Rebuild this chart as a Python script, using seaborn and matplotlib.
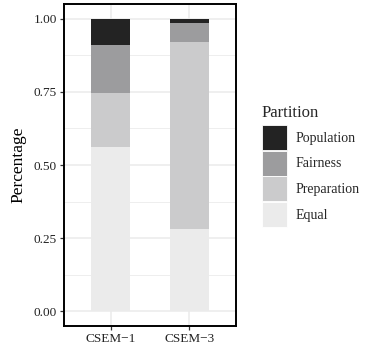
import matplotlib
matplotlib.use("Agg")
import matplotlib.pyplot as plt
from matplotlib.patches import Patch
from matplotlib.ticker import MultipleLocator
import numpy as np
import pandas as pd
import seaborn as sns

models = ["CSEM\u22121", "CSEM\u22123"]
partitions = ["Population", "Fairness", "Preparation", "Equal"]
equal = [0.56, 0.28]
preparation = [0.185, 0.64]
fairness = [0.165, 0.065]
population = [0.09, 0.015]
colors = ["#232323", "#9c9c9e", "#cbcbcc", "#ebebeb"]

sns.set_theme(style="white")
plt.rcParams["font.family"] = ["Liberation Serif", "DejaVu Serif"]

# stack from the bottom: Equal, Preparation, Fairness, Population
layers = [equal, preparation, fairness, population]
cum = np.cumsum(np.array(layers), axis=0)
df = pd.DataFrame({"model": models * 4,
                   "partition": np.repeat(partitions[::-1], 2),
                   "top": cum.flatten()})

fig = plt.figure(figsize=(3.69, 3.5), dpi=100)
ax = fig.add_axes([64 / 369, 24 / 350, 172 / 369, 322 / 350])

# draw tallest cumulative layer first so lower segments overlay it
for name, col in zip(partitions, colors):
    sub = df[df["partition"] == name]
    sns.barplot(data=sub, x="model", y="top", color=col, width=0.5,
                saturation=1, ax=ax, zorder=3, linewidth=0, order=models)

ax.set_xlim(-0.6, 1.6)
ax.set_ylim(-0.05, 1.05)
ax.yaxis.set_major_locator(MultipleLocator(0.25))
ax.yaxis.set_minor_locator(MultipleLocator(0.125))
ax.set_yticks([0, 0.25, 0.5, 0.75, 1.0])
ax.set_yticklabels(["0.00", "0.25", "0.50", "0.75", "1.00"])
ax.set_xticks([0, 1])
ax.set_xticklabels(models)
ax.grid(True, which="major", color="#ebebeb", linewidth=1.1, zorder=0)
ax.grid(True, which="minor", axis="y", color="#ebebeb", linewidth=0.6, zorder=0)
ax.set_axisbelow(True)
for s in ax.spines.values():
    s.set_color("black")
    s.set_linewidth(1.4)
ax.tick_params(axis="both", which="major", length=3, width=0.9, color="#333333",
               labelsize=9.5, labelcolor="#222222", pad=2, bottom=True, left=True)
ax.tick_params(axis="y", which="minor", length=0)
ax.set_xlabel("")
ax.set_ylabel("Percentage", fontsize=12.5, color="black", labelpad=5)

handles = [Patch(facecolor=c, edgecolor="white", linewidth=0.6) for c in colors]
leg = fig.legend(handles, partitions, title="Partition", loc="upper left",
                 bbox_to_anchor=(252 / 369, 1 - 95 / 350), frameon=False,
                 fontsize=10, title_fontsize=12, handlelength=1.8, handleheight=2.4,
                 handletextpad=0.6, labelspacing=0.05, alignment="left",
                 borderpad=0.2)
leg._legend_box.sep = 3
fig.savefig("out.png", dpi=100)
